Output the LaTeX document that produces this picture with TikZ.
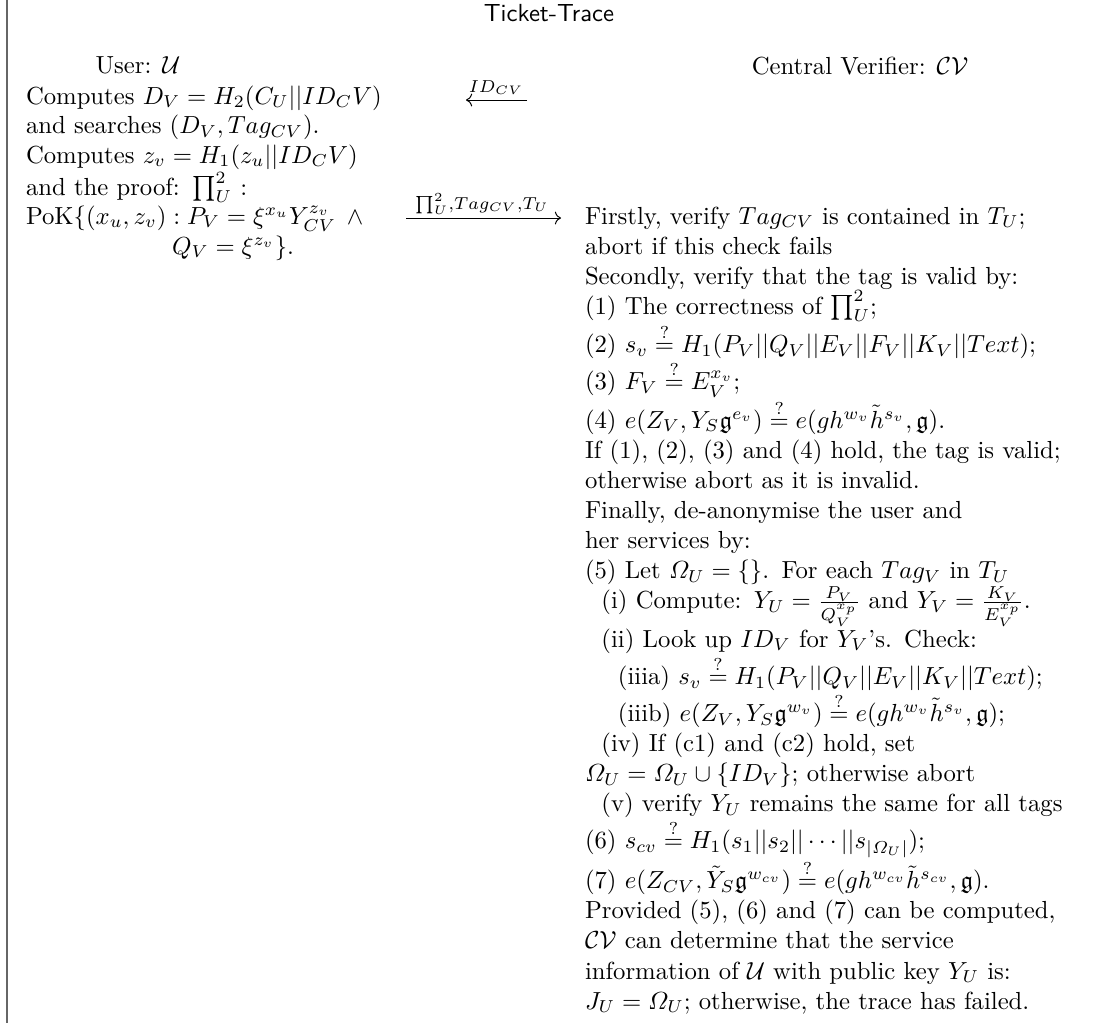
\documentclass[tikz,border=0pt]{standalone}
\usepackage{amsmath,amssymb}
\usetikzlibrary{arrows.meta}
\begin{document}
\begin{tikzpicture}[x=0.404858pt,y=-0.404858pt,
  col/.style={anchor=base west,inner sep=0pt,outer sep=0pt,align=left},
  txt/.style={anchor=base west,inner sep=0pt,outer sep=0pt},
  hdr/.style={anchor=base,inner sep=0pt,outer sep=0pt},
  msg/.style={-{Computer Modern Rightarrow}, line width=0.4pt},
  lbl/.style={anchor=base,inner sep=0pt,outer sep=0pt}]
\useasboundingbox (0,0) rectangle (1094,1023);
\draw[line width=0.8pt, black!60] (7,0) -- (7,1023);
% title and parties
\node[hdr,font=\sffamily] (title) at (549,21) {Ticket-Trace};
\node[hdr] (user) at (138,73) {User: $\mathcal{U}$};
\node[hdr] (cv) at (860,74) {Central Verifier: $\mathcal{CV}$};
% left column
\node[col,text width=175pt] (left1) at (26,104) {Computes $D_V = H_2(C_U||ID_CV)$\\
and searches $(D_V, Tag_{CV})$.\\
Computes $z_v = H_1(z_u||ID_CV)$\\
and the proof: $\prod_U^2$ :};
\node[txt] (pok1) at (26,224) {PoK$\{(x_u, z_v) : P_V = \xi^{x_u}Y_{CV}^{z_v}\;\,\wedge$};
\node[txt] (pok2) at (172,254) {$Q_V = \xi^{z_v}\}$.};
% messages
\coordinate (m1s) at (527,100);
\coordinate (m1e) at (466,100);
\draw[msg] (m1s) -- (m1e);
\node[lbl] (m1l) at (496,92) {$\scriptstyle ID_{CV}$};
\coordinate (m2s) at (406,218);
\coordinate (m2e) at (561,218);
\draw[msg] (m2s) -- (m2e);
\node[lbl] (m2l) at (482,209) {$\scriptstyle \prod_U^2, Tag_{CV}, T_U$};
% right column
\node[col,text width=225pt,font=\fontsize{10}{12.2}\selectfont] (right) at (585,224) {Firstly, verify $Tag_{CV}$ is contained in $T_U$;\\
abort if this check fails\\
Secondly, verify that the tag is valid by:\\
(1) The correctness of $\prod_U^2$;\\
(2) $s_v \stackrel{?}{=} H_1(P_V||Q_V||E_V||F_V||K_V||Text)$;\\
(3) $F_V \stackrel{?}{=} E_V^{x_v}$;\\
(4) $e(Z_V, Y_S\mathfrak{g}^{e_v}) \stackrel{?}{=} e(gh^{w_v}\tilde{h}^{s_v}, \mathfrak{g})$.\\
If (1), (2), (3) and (4) hold, the tag is valid;\\
otherwise abort as it is invalid.\\
Finally, de-anonymise the user and\\
her services by:\\
(5) Let $\varOmega_U = \{\}$. For each $Tag_V$ in $T_U$\\
~~(i) Compute: $Y_U = \frac{P_V}{Q_V^{x_p}}$ and $Y_V = \frac{K_V}{E_V^{x_p}}$.\\
~~(ii) Look up $ID_V$ for $Y_V$'s. Check:\\
~~~~(iiia) $s_v \stackrel{?}{=} H_1(P_V||Q_V||E_V||K_V||Text)$;\\
~~~~(iiib) $e(Z_V, Y_S\mathfrak{g}^{w_v}) \stackrel{?}{=} e(gh^{w_v}\tilde{h}^{s_v}, \mathfrak{g})$;\\
~~(iv) If (c1) and (c2) hold, set\\
$\varOmega_U = \varOmega_U \cup \{ID_V\}$; otherwise abort\\
~~(v) verify $Y_U$ remains the same for all tags\\
(6) $s_{cv} \stackrel{?}{=} H_1(s_1||s_2||\cdots||s_{|\varOmega_U|})$;\\
(7) $e(Z_{CV}, \tilde{Y}_S\mathfrak{g}^{w_{cv}}) \stackrel{?}{=} e(gh^{w_{cv}}\tilde{h}^{s_{cv}}, \mathfrak{g})$.\\
Provided (5), (6) and (7) can be computed,\\
$\mathcal{CV}$ can determine that the service\\
information of $\mathcal{U}$ with public key $Y_U$ is:\\
$J_U = \varOmega_U$; otherwise, the trace has failed.};
\end{tikzpicture}
\end{document}
